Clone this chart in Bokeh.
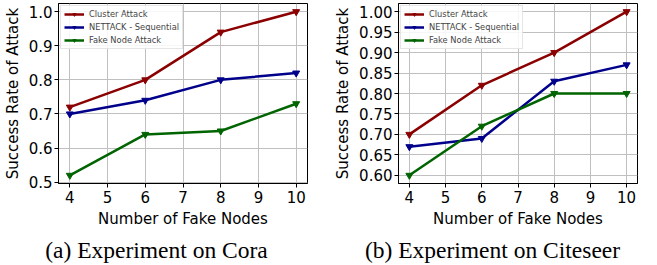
from bokeh.plotting import figure
from bokeh.models import FixedTicker, PrintfTickFormatter, Range1d, Label
from bokeh.layouts import row, column
from bokeh.embed import file_html
from bokeh.resources import INLINE

# ---------------- data ----------------
fake_nodes = [4, 6, 8, 10]
x_ticks = [4, 5, 6, 7, 8, 9, 10]

cora_cluster = [0.72, 0.80, 0.94, 1.00]
cora_nettack = [0.70, 0.74, 0.80, 0.82]
cora_fake = [0.52, 0.64, 0.65, 0.73]
cora_y_ticks = [0.5, 0.6, 0.7, 0.8, 0.9, 1.0]

cite_cluster = [0.70, 0.82, 0.90, 1.00]
cite_nettack = [0.67, 0.69, 0.83, 0.87]
cite_fake = [0.60, 0.72, 0.80, 0.80]
cite_y_ticks = [0.60, 0.65, 0.70, 0.75, 0.80, 0.85, 0.90, 0.95, 1.00]

series_names = ["Cluster Attack", "NETTACK - Sequential", "Fake Node Attack"]
series_colors = ["#8b0000", "#00008b", "#006400"]

captions = ["(a) Experiment on Cora", "(b) Experiment on Citeseer"]

FONT = "DejaVu Sans"


def make_panel(series, y_ticks, fmt, width, left, right):
    ymin, ymax = min(min(s) for s in series), max(max(s) for s in series)
    ypad = (ymax - ymin) * 0.05
    xpad = (max(fake_nodes) - min(fake_nodes)) * 0.05
    p = figure(width=width, height=230, output_backend="svg", toolbar_location=None,
               x_range=Range1d(min(fake_nodes) - xpad, max(fake_nodes) + xpad),
               y_range=Range1d(ymin - ypad, ymax + ypad),
               min_border_left=left, min_border_right=right,
               min_border_top=3, min_border_bottom=46)
    for vals, name, col in zip(series, series_names, series_colors):
        p.line(fake_nodes, vals, line_color=col, line_width=2.5, legend_label=name)
        p.scatter(fake_nodes, vals, marker="inverted_triangle", size=7,
                  fill_color=col, line_color=col, legend_label=name)
    p.xaxis.ticker = FixedTicker(ticks=x_ticks)
    p.yaxis.ticker = FixedTicker(ticks=y_ticks)
    p.yaxis.formatter = PrintfTickFormatter(format=fmt)
    p.xaxis.axis_label = "Number of Fake Nodes"
    p.yaxis.axis_label = "Success Rate of Attack"
    for ax in (p.xaxis, p.yaxis):
        ax.axis_label_text_font = FONT
        ax.axis_label_text_font_size = "15px"
        ax.axis_label_text_font_style = "normal"
        ax.axis_label_text_color = "black"
        ax.major_label_text_font = FONT
        ax.major_label_text_font_size = "15px"
        ax.major_label_text_color = "black"
        ax.minor_tick_line_color = None
        ax.major_tick_out = 4
        ax.major_tick_in = 0
        ax.major_tick_line_color = "black"
        ax.axis_line_color = "black"
        ax.axis_label_standoff = 4
    p.xaxis.major_label_standoff = 3
    p.yaxis.major_label_standoff = 2
    p.grid.grid_line_color = "#c0c0c0"
    p.grid.grid_line_width = 1
    p.outline_line_color = "black"
    p.outline_line_width = 1
    p.outline_line_alpha = 1
    lg = p.legend[0]
    lg.location = "top_left"
    lg.label_text_font = FONT
    lg.label_text_font_size = "8.3px"
    lg.label_height = 8
    lg.glyph_height = 8
    lg.glyph_width = 20
    lg.spacing = 3
    lg.padding = 3
    lg.margin = 2
    lg.label_standoff = 5
    lg.border_line_color = "#cccccc"
    lg.background_fill_alpha = 0.85
    return p


p1 = make_panel([cora_cluster, cora_nettack, cora_fake], cora_y_ticks, "%.1f", 330, 58, 23)
p2 = make_panel([cite_cluster, cite_nettack, cite_fake], cite_y_ticks, "%.2f", 327, 68, 20)

pc = figure(width=657, height=35, output_backend="svg", toolbar_location=None,
            x_range=Range1d(0, 657), y_range=Range1d(0, 35), min_border=0)
pc.axis.visible = False
pc.grid.visible = False
pc.outline_line_color = None
for cx, txt in zip([156, 492], captions):
    pc.add_layout(Label(x=cx, y=16, text=txt, text_align="center", text_baseline="middle",
                        text_font="Liberation Serif", text_font_size="23.5px", text_color="black"))

layout = column(row(p1, p2), pc)
open("out.html", "w").write(file_html(layout, INLINE))
